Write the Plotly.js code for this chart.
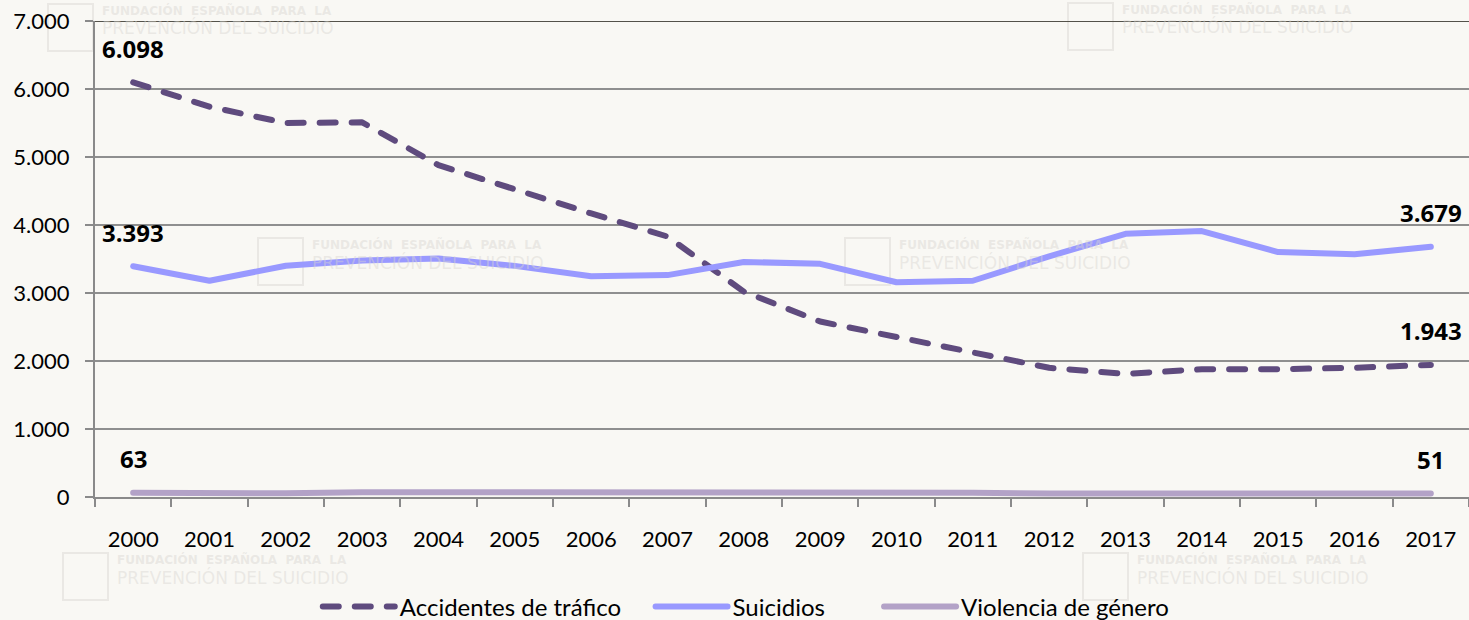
<!DOCTYPE html>
<html>
<head>
<meta charset="utf-8">
<script src="https://cdn.plot.ly/plotly-3.0.1.min.js"></script>
<style>
  html, body { margin: 0; padding: 0; background: #f9f8f4; }
  #chart { width: 1469px; height: 620px; }
  .scatterlayer .js-line { stroke-linecap: round; stroke-linejoin: round; }
  .legend .js-line { stroke-linecap: round; }
</style>
</head>
<body>
<div id="chart"></div>
<script>
const years = ["2000","2001","2002","2003","2004","2005","2006","2007","2008","2009","2010","2011","2012","2013","2014","2015","2016","2017"];
const accidentes = [6098, 5740, 5500, 5510, 4880, 4520, 4170, 3830, 3020, 2580, 2350, 2110, 1900, 1810, 1880, 1880, 1900, 1943];
const suicidios = [3393, 3180, 3401, 3478, 3507, 3399, 3246, 3263, 3457, 3429, 3158, 3180, 3539, 3870, 3910, 3602, 3569, 3679];
const violencia = [63, 50, 54, 71, 72, 57, 69, 71, 76, 56, 73, 62, 52, 54, 55, 60, 49, 51];
const seriesNames = ["Accidentes de tráfico", "Suicidios", "Violencia de género"];
const yTickVals = [0, 1000, 2000, 3000, 4000, 5000, 6000, 7000];
const yTickText = ["0", "1.000", "2.000", "3.000", "4.000", "5.000", "6.000", "7.000"];

const fmt = v => v >= 1000 ? Math.floor(v/1000) + "." + String(v % 1000).padStart(3, "0") : String(v);
const pad = n => "&nbsp;".repeat(n);

const traces = [
  { x: years, y: accidentes, name: seriesNames[0] + pad(4), type: "scatter", mode: "lines",
    line: { color: "#5f4b7e", width: 6, dash: "16px,16px" } },
  { x: years, y: suicidios, name: seriesNames[1] + pad(8), type: "scatter", mode: "lines",
    line: { color: "#9999ff", width: 6 } },
  { x: years, y: violencia, name: seriesNames[2], type: "scatter", mode: "lines",
    line: { color: "#b3a2c7", width: 6 } }
];

const labelFont = { family: "Open Sans", size: 24, color: "#000", weight: 700 };
const annotations = [];
[accidentes, suicidios, violencia].forEach(arr => {
  [0, arr.length - 1].forEach(i => {
    annotations.push({ x: i, y: arr[i], xref: "x", yref: "y", text: "<b>" + fmt(arr[i]) + "</b>",
      showarrow: false, yshift: 34, yanchor: "middle", xanchor: "center", font: labelFont });
  });
});

// faint watermarks
const L = 95, T = 21, W = 1374, H = 476;
const px = x => (x - L) / W, py = y => (T + H - y) / H;
const marks = [[100, 1], [1120, 0], [310, 235], [897, 235], [115, 550], [1135, 550]];
const wmColor = "rgba(215,213,208,0.45)";
const shapes = [];
marks.forEach(([x, y]) => {
  annotations.push({ xref: "paper", yref: "paper", x: px(x), y: py(y + 9), xanchor: "left", yanchor: "middle",
    text: "FUNDACIÓN  ESPAÑOLA  PARA  LA", showarrow: false, font: { family: "DejaVu Sans", size: 12, color: wmColor, weight: 700 } });
  annotations.push({ xref: "paper", yref: "paper", x: px(x), y: py(y + 27), xanchor: "left", yanchor: "middle",
    text: "PREVENCIÓN DEL SUICIDIO", showarrow: false, font: { family: "DejaVu Sans", size: 17, color: wmColor } });
  shapes.push({ type: "rect", xref: "paper", yref: "paper", x0: px(x - 52), x1: px(x - 7), y0: py(y + 3), y1: py(y + 50),
    line: { color: wmColor, width: 2 }, layer: "below" });
});
shapes.push({ type: "line", xref: "paper", yref: "y", x0: 0, x1: 1, y0: 7000, y1: 7000, line: { color: "#54524a", width: 2 } });

const layout = {
  width: 1469, height: 620,
  paper_bgcolor: "#f9f8f4", plot_bgcolor: "#f9f8f4",
  margin: { l: L, r: 0, t: T, b: 620 - T - H, autoexpand: false },
  showlegend: true,
  legend: { orientation: "h", x: 0.474, xanchor: "center", y: -0.231, yanchor: "middle",
    font: { family: "Lato", size: 24, color: "#000" }, itemwidth: 72, bgcolor: "rgba(0,0,0,0)" },
  xaxis: { type: "category", range: [-0.5, 17.5], tickson: "boundaries", ticks: "outside", ticklen: 8, tickwidth: 2, tickcolor: "#8a8a8a",
    showline: true, linecolor: "#8a8a8a", linewidth: 2, showgrid: false, ticklabelstandoff: 22, tickangle: 0,
    tickfont: { family: "Lato", size: 22, color: "#000" }, fixedrange: true },
  yaxis: { range: [0, 7000], tickvals: yTickVals, ticktext: yTickText, ticks: "outside", ticklen: 8, tickwidth: 2,
    tickcolor: "#8a8a8a", showline: true, linecolor: "#8a8a8a", linewidth: 2, showgrid: true, gridcolor: "#8f8f8f",
    gridwidth: 2, zeroline: false, ticklabelstandoff: 11, tickfont: { family: "Lato", size: 22, color: "#000" }, fixedrange: true },
  annotations: annotations,
  shapes: shapes
};

Plotly.newPlot("chart", traces, layout, { displayModeBar: false, staticPlot: true });
</script>
</body>
</html>
